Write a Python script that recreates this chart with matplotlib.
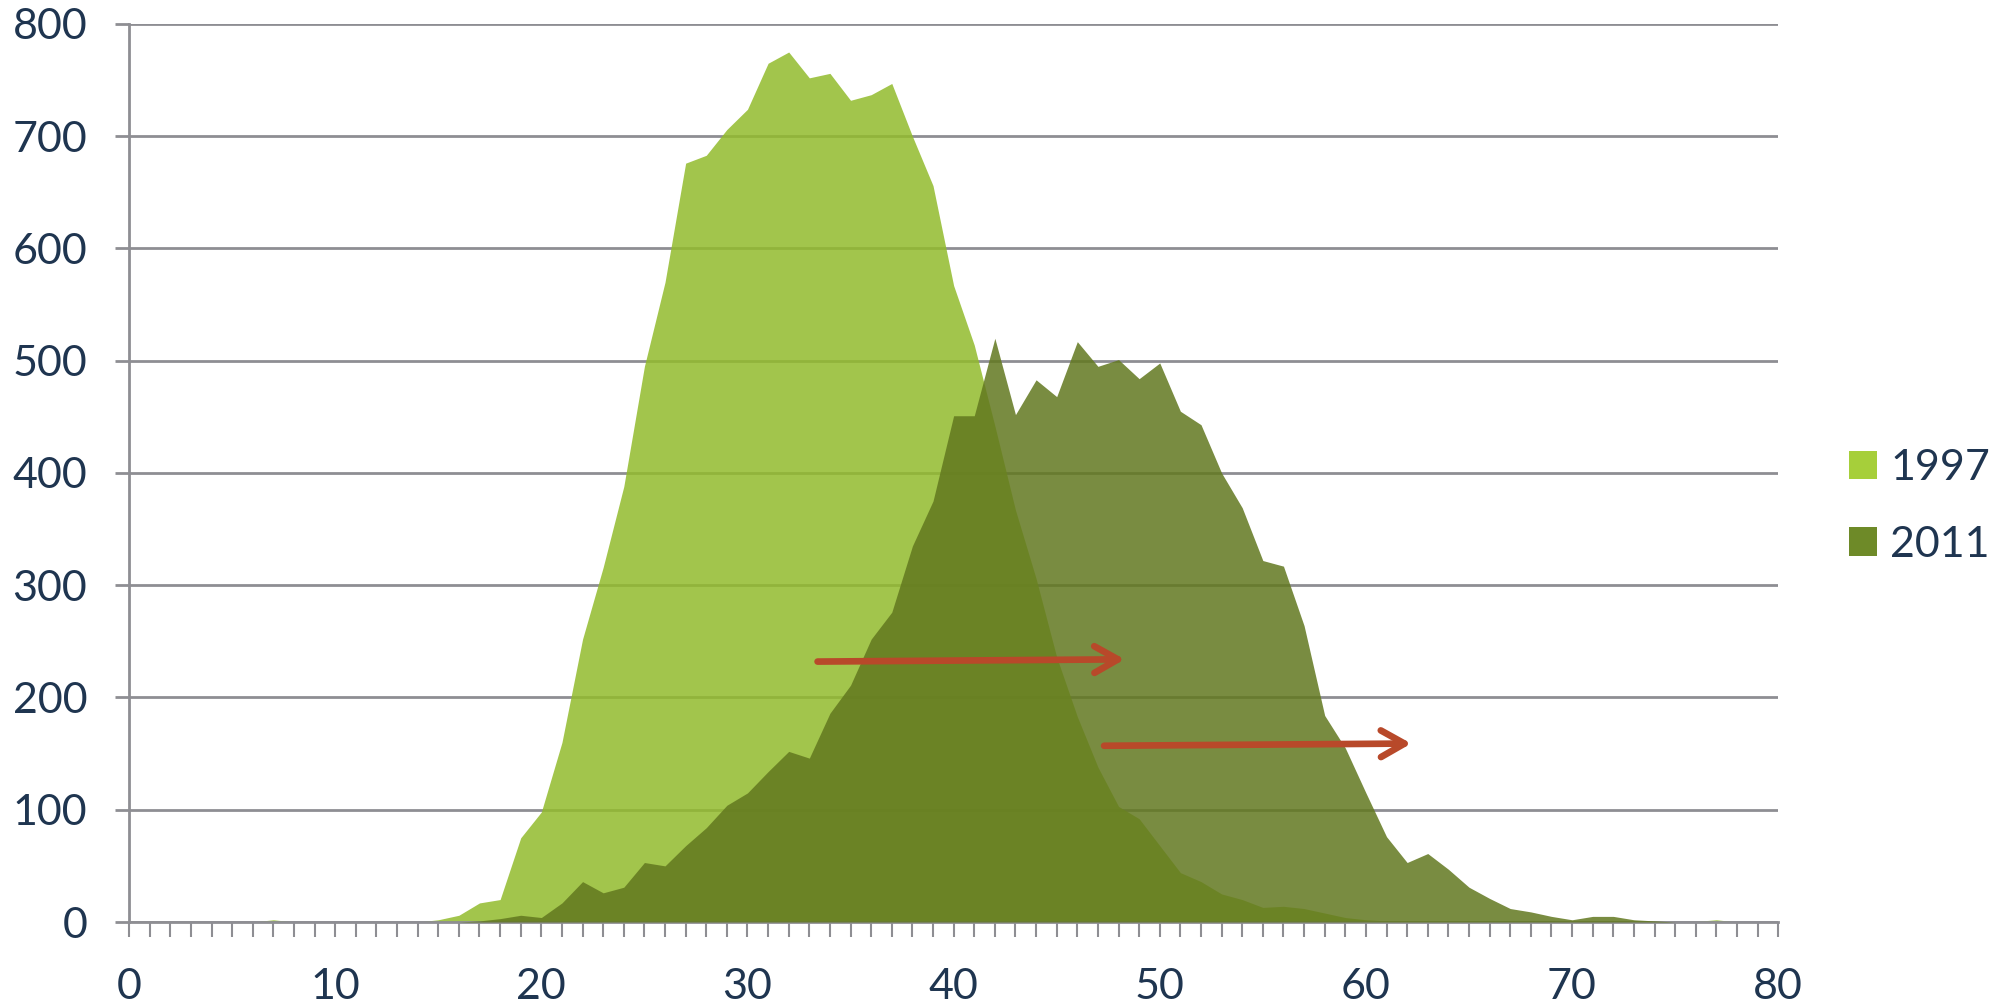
import matplotlib
matplotlib.use("Agg")
import matplotlib.pyplot as plt
from matplotlib.patches import Patch
import numpy as np

ages = list(range(0, 81))

values_1997 = [0, 0, 0, 0, 0, 0, 0, 2, 0, 0,
               0, 0, 0, 0, 0, 2, 6, 17, 20, 75,
               98, 160, 252, 316, 388, 495, 570, 676, 683, 706,
               724, 765, 775, 752, 756, 732, 737, 747, 700, 656,
               567, 514, 442, 367, 306, 236, 183, 138, 103, 92,
               68, 44, 36, 25, 20, 13, 14, 12, 8, 4,
               2, 1, 1, 0.5, 0.5, 0.5, 0.5, 0.5, 0.5, 0.5,
               0.5, 0.5, 0.5, 0.5, 0.5, 0.5, 0.5, 2, 0, 0,
               0]

values_2011 = [0, 0, 0, 0, 0, 0, 0, 0, 0, 0,
               0, 0, 0, 0, 0, 0, 0, 1, 3, 6,
               4, 17, 36, 26, 31, 53, 50, 68, 84, 104,
               115, 134, 152, 146, 186, 211, 252, 276, 335, 375,
               451, 451, 520, 452, 483, 468, 517, 495, 501, 484,
               498, 455, 443, 400, 369, 322, 317, 264, 184, 155,
               115, 76, 53, 61, 47, 31, 21, 12, 9, 5,
               2, 5, 5, 2, 1, 0, 0, 0, 0, 0,
               0]

series_labels = ["1997", "2011"]
x_major_ticks = list(range(0, 81, 10))
y_major_ticks = list(range(0, 801, 100))

# annotation arrows (start x, start y, end x, end y)
arrow_starts = [(33.4, 232), (47.3, 157)]
arrow_ends = [(48.3, 234), (62.2, 159)]

TEXT = "#1F3550"
GRID = "#8E8E93"
C1997 = "#92BB2C"
C2011 = "#62781F"
ARROW = "#B8492A"

plt.rcParams['font.family'] = ['Lato', 'DejaVu Sans']
plt.rcParams['hatch.color'] = "#C8E07A"
plt.rcParams['hatch.linewidth'] = 0.6

fig = plt.figure(figsize=(20.07, 10.07), dpi=100)
ax = fig.add_axes([0.0643, 0.0844, 0.886 - 0.0643, 0.9762 - 0.0844])

ax.fill_between(ages, values_1997, 0, color=C1997, alpha=0.85, lw=0, zorder=2)
ax.fill_between(ages, values_2011, 0, color=C2011, alpha=0.85, lw=0, zorder=3)

for (x0, y0), (x1, y1) in zip(arrow_starts, arrow_ends):
    ax.annotate("", xy=(x1, y1), xytext=(x0, y0),
                arrowprops=dict(arrowstyle="->,head_length=0.85,head_width=0.48",
                                color=ARROW, lw=4.8, mutation_scale=20,
                                shrinkA=0, shrinkB=0),
                zorder=5)

ax.set_xlim(0, 80)
ax.set_ylim(0, 800)
ax.set_xticks(x_major_ticks)
ax.set_xticks(ages, minor=True)
ax.set_yticks(y_major_ticks)
ax.grid(axis='y', color=GRID, lw=2, zorder=1)
ax.set_axisbelow(True)

for s in ['top', 'right']:
    ax.spines[s].set_visible(False)
for s in ['left', 'bottom']:
    ax.spines[s].set_color(GRID)
    ax.spines[s].set_linewidth(2)

ax.tick_params(axis='x', which='both', direction='out', length=11, width=1.5,
               color=GRID, labelsize=31, labelcolor=TEXT, pad=22)
ax.tick_params(axis='y', which='major', direction='out', length=10, width=2,
               color=GRID, labelsize=31, labelcolor=TEXT, pad=20)

handles = [Patch(facecolor="#A6CF3A", edgecolor="none", hatch="++"),
           Patch(facecolor="#6E8A28", edgecolor="none", hatch="++")]
leg = fig.legend(handles, series_labels, loc='center left',
                 bbox_to_anchor=(0.9215, 0.497), frameon=False,
                 fontsize=31, labelcolor=TEXT, handlelength=0.65,
                 handleheight=0.65, handletextpad=0.3, labelspacing=0.9,
                 borderaxespad=0, borderpad=0)

fig.savefig("out.png", dpi=100)
